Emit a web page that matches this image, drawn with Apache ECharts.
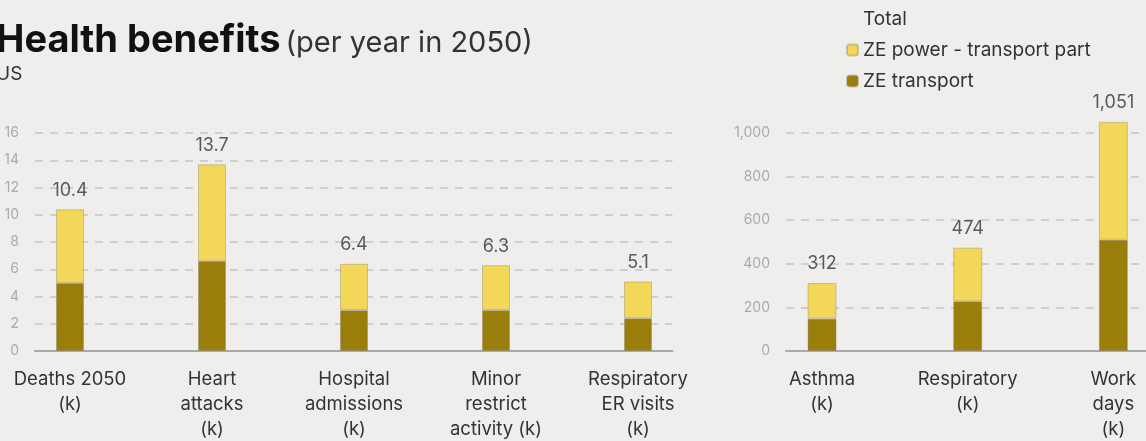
<!DOCTYPE html>
<html>
<head>
<meta charset="utf-8">
<script src="https://cdn.jsdelivr.net/npm/echarts@6/dist/echarts.min.js"></script>
<style>
  html, body { margin: 0; padding: 0; background: #efeeec; }
  #chart { width: 1146px; height: 441px; }
</style>
</head>
<body>
<div id="chart"></div>
<script>
// Health benefits per year in 2050 (US), split into ZE transport and the transport part of ZE power
const leftCategories = ['Deaths 2050\n(k)', 'Heart\nattacks\n(k)', 'Hospital\nadmissions\n(k)', 'Minor\nrestrict\nactivity (k)', 'Respiratory\nER visits\n(k)'];
const leftTotals = [10.4, 13.7, 6.4, 6.3, 5.1];
const leftTransport = [5.0, 6.6, 3.0, 3.0, 2.4];

const rightCategories = ['Asthma\n(k)', 'Respiratory\n(k)', 'Work\ndays\n(k)'];
const rightTotals = [312, 474, 1051];
const rightTransport = [148, 228, 510];

const leftTicks = { min: 0, max: 16, interval: 2 };
const rightTicks = { min: 0, max: 1000, interval: 200 };

const NAME_TOTAL = 'Total';
const NAME_POWER = 'ZE power - transport part';
const NAME_TRANSPORT = 'ZE transport';

const FONT = 'Inter, "Noto Sans", sans-serif';
const YELLOW = '#f2d758';
const OLIVE = '#9a7e0b';
const TEXT = '#333333';
const AXIS_GREY = '#a9a9a9';

function powerPart(totals, transport) {
  return totals.map((t, i) => +(t - transport[i]).toFixed(2));
}
function fmt(v) {
  const parts = String(v).split('.');
  parts[0] = parts[0].replace(/\B(?=(\d{3})+(?!\d))/g, ',');
  return parts.join('.');
}

const chart = echarts.init(document.getElementById('chart'), null, { renderer: 'canvas' });

const TOP = 133, HEIGHT = 218;

// grids 0/2 carry the bars; grids 1/3 carry the value axis, the dashed lines and the baseline
const grids = [
  { left: -1, top: TOP, width: 710, height: HEIGHT },
  { left: 35, top: TOP, width: 637.5, height: HEIGHT },
  { left: 749.2, top: TOP, width: 437, height: HEIGHT },
  { left: 786, top: TOP, width: 420, height: HEIGHT }
].map(g => Object.assign({ outerBoundsMode: 'none', containLabel: false }, g));

function barXAxis(gridIndex, data) {
  return {
    type: 'category', gridIndex, data,
    axisLine: { show: false }, axisTick: { show: false },
    axisLabel: { color: TEXT, fontFamily: FONT, fontSize: 18.5, lineHeight: 25, margin: 16, interval: 0 }
  };
}
function baseXAxis(gridIndex) {
  return {
    type: 'category', gridIndex, data: ['a'],
    axisLine: { show: true, lineStyle: { color: AXIS_GREY, width: 2 } },
    axisTick: { show: false }, axisLabel: { show: false }
  };
}
function hiddenYAxis(gridIndex, t) {
  return { type: 'value', gridIndex, min: t.min, max: t.max, interval: t.interval, show: false, splitLine: { show: false } };
}
function shownYAxis(gridIndex, t, margin) {
  return {
    type: 'value', gridIndex, min: t.min, max: t.max, interval: t.interval,
    axisLine: { show: false }, axisTick: { show: false },
    axisLabel: { color: '#ababab', fontFamily: FONT, fontSize: 14, margin, formatter: v => fmt(v) },
    splitLine: { show: true, lineStyle: { color: '#cfcfcf', width: 2, type: [8, 7] } }
  };
}

function barsFor(xi, cats, totals, transport, width) {
  const power = powerPart(totals, transport);
  const border = { borderColor: 'rgba(140,130,100,0.4)', borderWidth: 1 };
  return [
    { type: 'bar', name: NAME_TRANSPORT, xAxisIndex: xi, yAxisIndex: xi, stack: 's' + xi, barWidth: width,
      clip: false, data: transport, itemStyle: Object.assign({ color: OLIVE }, border), z: 3 },
    { type: 'bar', name: NAME_POWER, xAxisIndex: xi, yAxisIndex: xi, stack: 's' + xi, barWidth: width,
      clip: false, data: power, itemStyle: Object.assign({ color: YELLOW }, border), z: 3 },
    { type: 'scatter', name: NAME_TOTAL, xAxisIndex: xi, yAxisIndex: xi, symbolSize: 0, clip: false,
      itemStyle: { color: 'transparent' },
      data: totals.map((t, i) => [i, t]),
      label: { show: true, position: 'top', distance: 10, color: TEXT, fontFamily: FONT, fontSize: 18,
        formatter: p => fmt(p.value[1]) }, z: 5 }
  ];
}

chart.setOption({
  backgroundColor: '#efeeec',
  animation: false,
  title: {
    left: -9, top: 17,
    text: '{b|Health benefits} {n|(per year in 2050)}',
    subtext: 'US',
    itemGap: 5,
    textStyle: {
      rich: {
        b: { fontFamily: FONT, fontWeight: 'bold', fontSize: 38, color: '#111' },
        n: { fontFamily: FONT, fontWeight: 'normal', fontSize: 29, color: TEXT, padding: [5, 0, 0, 0] }
      }
    },
    subtextStyle: { fontFamily: FONT, fontSize: 19, color: TEXT }
  },
  legend: {
    orient: 'vertical', left: 846, top: 9, padding: 0,
    itemWidth: 11, itemHeight: 11, itemGap: 11,
    data: [NAME_TOTAL, NAME_POWER, NAME_TRANSPORT],
    textStyle: { fontFamily: FONT, fontSize: 19, color: TEXT, lineHeight: 20 },
    selectedMode: false
  },
  grid: grids,
  xAxis: [barXAxis(0, leftCategories), baseXAxis(1), barXAxis(2, rightCategories), baseXAxis(3)],
  yAxis: [hiddenYAxis(0, leftTicks), shownYAxis(1, leftTicks, 16), hiddenYAxis(2, rightTicks), shownYAxis(3, rightTicks, 16)],
  series: [
    ...barsFor(0, leftCategories, leftTotals, leftTransport, 28),
    ...barsFor(2, rightCategories, rightTotals, rightTransport, 29)
  ]
});
</script>
</body>
</html>
